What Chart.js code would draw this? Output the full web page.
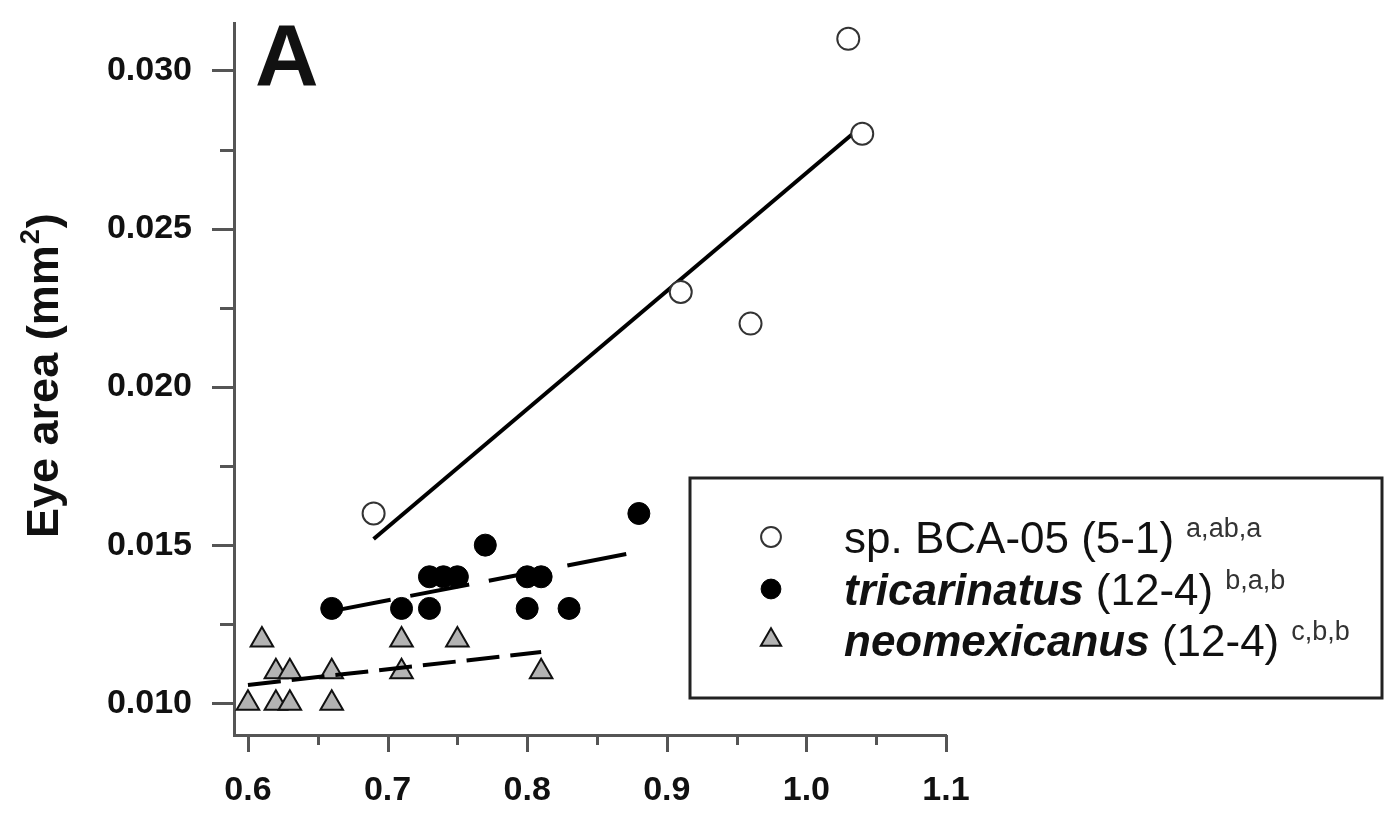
<!DOCTYPE html>
<html>
<head>
<meta charset="utf-8">
<title>Eye area</title>
<script src="https://cdn.jsdelivr.net/npm/chart.js@4.4.1/dist/chart.umd.min.js"></script>
<style>
  html, body { margin: 0; padding: 0; background: #fff; }
  #wrap { width: 1385px; height: 814px; }
</style>
</head>
<body>
<div id="wrap"><canvas id="chart" width="1385" height="814"></canvas></div>
<script>
// body size (x) vs eye area in mm² (y), one point per specimen
const bcaX = [0.69, 0.91, 0.96, 1.03, 1.04];
const bcaY = [0.016, 0.023, 0.022, 0.031, 0.028];

const triX = [0.66, 0.71, 0.73, 0.73, 0.74, 0.75, 0.77, 0.80, 0.81, 0.80, 0.83, 0.88];
const triY = [0.013, 0.013, 0.013, 0.014, 0.014, 0.014, 0.015, 0.014, 0.014, 0.013, 0.013, 0.016];

const neoX = [0.60, 0.61, 0.62, 0.62, 0.63, 0.63, 0.66, 0.66, 0.71, 0.71, 0.75, 0.81];
const neoY = [0.010, 0.012, 0.011, 0.010, 0.011, 0.010, 0.011, 0.010, 0.012, 0.011, 0.012, 0.011];

const xTicks = [0.6, 0.7, 0.8, 0.9, 1.0, 1.1];
const xMinor = [0.65, 0.75, 0.85, 0.95, 1.05];
const yTicks = [0.010, 0.015, 0.020, 0.025, 0.030];
const yMinor = [0.0125, 0.0175, 0.0225, 0.0275];

const FONT = "'Liberation Sans', Arial, Helvetica, sans-serif";
const INK = '#111';
const AXIS = '#555';

const toPts = (xs, ys) => xs.map((x, i) => ({ x: x, y: ys[i] }));

// least-squares line across the range of x
function fitLine(xs, ys) {
    const n = xs.length;
    const mx = xs.reduce((a, b) => a + b, 0) / n;
    const my = ys.reduce((a, b) => a + b, 0) / n;
    let sxy = 0, sxx = 0;
    xs.forEach((x, i) => {
        sxy += (x - mx) * (ys[i] - my);
        sxx += (x - mx) * (x - mx);
    });
    const slope = sxy / sxx;
    const icpt = my - slope * mx;
    const x0 = Math.min(...xs), x1 = Math.max(...xs);
    return [{ x: x0, y: icpt + slope * x0 }, { x: x1, y: icpt + slope * x1 }];
}

const isIn = (list, v) => list.some(t => Math.abs(t - v) < 1e-9);

const bcaStyle = { pointStyle: 'circle', radius: 11, backgroundColor: '#fff', borderColor: '#333', borderWidth: 2 };
const triStyle = { pointStyle: 'circle', radius: 11, backgroundColor: '#000', borderColor: '#000', borderWidth: 1 };
const neoStyle = { pointStyle: 'triangle', radius: 13, backgroundColor: '#b3b3b3', borderColor: '#111', borderWidth: 2 };

function pointSet(label, xs, ys, st, order) {
    return {
        label: label,
        data: toPts(xs, ys),
        pointStyle: st.pointStyle,
        pointRadius: st.radius,
        pointBackgroundColor: st.backgroundColor,
        pointBorderColor: st.borderColor,
        pointBorderWidth: st.borderWidth,
        showLine: false,
        order: order
    };
}

function fitSet(xs, ys, dash, order) {
    return {
        data: fitLine(xs, ys),
        showLine: true,
        pointRadius: 0,
        borderColor: '#000',
        borderWidth: 4,
        borderDash: dash,
        borderCapStyle: 'butt',
        order: order
    };
}

// outward tick marks, long for labelled values and short in between
const tickMarks = {
    id: 'tickMarks',
    afterDraw(chart) {
        const ctx = chart.ctx;
        const xs = chart.scales.x, ys = chart.scales.y;
        const left = chart.chartArea.left, bottom = chart.chartArea.bottom;
        ctx.save();
        ctx.strokeStyle = AXIS;
        ctx.lineCap = 'butt';
        ctx.lineWidth = 3;
        yTicks.concat(yMinor).forEach(v => {
            const len = isIn(yTicks, v) ? 22 : 14;
            const p = Math.round(ys.getPixelForValue(v)) + 0.5;
            ctx.beginPath();
            ctx.moveTo(left - len, p);
            ctx.lineTo(left, p);
            ctx.stroke();
        });
        xTicks.concat(xMinor).forEach(v => {
            const len = isIn(xTicks, v) ? 17 : 10;
            const p = Math.round(xs.getPixelForValue(v)) + 0.5;
            ctx.beginPath();
            ctx.moveTo(p, bottom);
            ctx.lineTo(p, bottom + len);
            ctx.stroke();
        });
        ctx.restore();
    }
};

// panel letter, y title with superscript, and the boxed key
const annotations = {
    id: 'annotations',
    afterDraw(chart) {
        const ctx = chart.ctx;
        const area = chart.chartArea;
        ctx.save();
        ctx.fillStyle = INK;
        ctx.textAlign = 'left';
        ctx.textBaseline = 'alphabetic';

        ctx.font = 'bold 88px ' + FONT;
        ctx.fillText('A', area.left + 21, area.top + 62);

        // y axis title, rotated
        ctx.save();
        ctx.translate(58, 538);
        ctx.rotate(-Math.PI / 2);
        ctx.font = 'bold 45px ' + FONT;
        const t1 = 'Eye area (mm';
        ctx.fillText(t1, 0, 0);
        let w = ctx.measureText(t1).width;
        ctx.font = 'bold 27px ' + FONT;
        ctx.fillText('2', w + 1, -19);
        w += ctx.measureText('2').width + 2;
        ctx.font = 'bold 45px ' + FONT;
        ctx.fillText(')', w, 0);
        ctx.restore();

        // key
        const box = { left: 690, top: 478, right: 1382, bottom: 698 };
        ctx.strokeStyle = '#222';
        ctx.lineWidth = 3;
        ctx.strokeRect(box.left, box.top, box.right - box.left, box.bottom - box.top);

        const rows = [
            { st: bcaStyle, parts: [['sp. BCA-05', false], [' (5-1)', false]], sup: 'a,ab,a' },
            { st: triStyle, parts: [['tricarinatus', true], [' (12-4)', false]], sup: 'b,a,b' },
            { st: neoStyle, parts: [['neomexicanus', true], [' (12-4)', false]], sup: 'c,b,b' }
        ];
        const rowY = [537, 589, 640];
        const markX = 771, textX = 844;
        rows.forEach((r, i) => {
            const y = rowY[i];
            ctx.fillStyle = r.st.backgroundColor;
            ctx.strokeStyle = r.st.borderColor;
            ctx.lineWidth = r.st.borderWidth;
            Chart.helpers.drawPoint(ctx, {
                pointStyle: r.st.pointStyle,
                radius: r.st.radius * 0.9,
                rotation: 0,
                borderWidth: r.st.borderWidth
            }, markX, y);

            ctx.fillStyle = INK;
            const base = y + 16;
            let x = textX;
            r.parts.forEach(([txt, it]) => {
                ctx.font = (it ? 'italic bold ' : '') + '44px ' + FONT;
                ctx.fillText(txt, x, base);
                x += ctx.measureText(txt).width;
            });
            ctx.fillStyle = '#333';
            ctx.font = '27px ' + FONT;
            ctx.fillText(r.sup, x + 12, base - 16);
        });
        ctx.restore();
    }
};

const ctx = document.getElementById('chart').getContext('2d');

new Chart(ctx, {
    type: 'scatter',
    data: {
        datasets: [
            pointSet('sp. BCA-05', bcaX, bcaY, bcaStyle, 0),
            fitSet(bcaX, bcaY, [], 1),
            pointSet('tricarinatus', triX, triY, triStyle, 2),
            fitSet(triX, triY, [60, 20], 3),
            fitSet(neoX, neoY, [33, 11], 4),
            pointSet('neomexicanus', neoX, neoY, neoStyle, 5)
        ]
    },
    options: {
        responsive: false,
        animation: false,
        layout: { padding: { left: 0, top: 23, right: 439, bottom: 0 } },
        plugins: {
            legend: { display: false },
            tooltip: { enabled: false }
        },
        scales: {
            x: {
                type: 'linear',
                min: 0.59,
                max: 1.1,
                afterFit: s => { s.height = 79; s.paddingLeft = 0; s.paddingRight = 0; },
                afterBuildTicks: s => { s.ticks = xTicks.map(v => ({ value: v })); },
                border: { display: true, color: AXIS, width: 3 },
                grid: { display: true, drawOnChartArea: false, drawTicks: false },
                ticks: {
                    padding: 35,
                    color: INK,
                    font: { family: FONT, size: 34, weight: 'bold' },
                    callback: v => v.toFixed(1)
                }
            },
            y: {
                type: 'linear',
                min: 0.009,
                max: 0.0315,
                afterFit: s => { s.width = 234; s.paddingTop = 0; s.paddingBottom = 0; },
                afterBuildTicks: s => { s.ticks = yTicks.map(v => ({ value: v })); },
                border: { display: true, color: AXIS, width: 3 },
                grid: { display: true, drawOnChartArea: false, drawTicks: false },
                ticks: {
                    padding: 42,
                    color: INK,
                    font: { family: FONT, size: 34, weight: 'bold' },
                    callback: v => v.toFixed(3)
                }
            }
        }
    },
    plugins: [tickMarks, annotations]
});
</script>
</body>
</html>
